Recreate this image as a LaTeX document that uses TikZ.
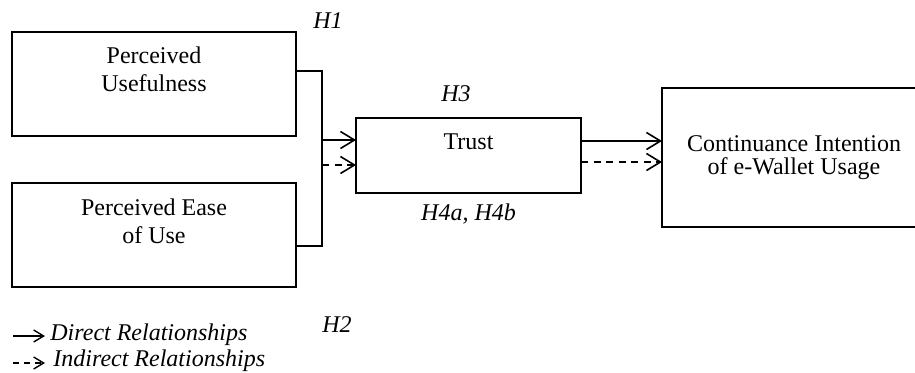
\documentclass[tikz,border=0pt]{standalone}
\usepackage{fontspec}
\setmainfont{Liberation Serif}
\usetikzlibrary{positioning,arrows.meta}

\begin{document}
\begin{tikzpicture}[
  box/.style={draw, line width=0.9pt, minimum width=142pt, minimum height=52pt,
              inner sep=0pt, outer sep=0pt},
  lbl/.style={inner sep=0pt, align=center, font=\fontsize{12}{14}\selectfont},
  hyp/.style={inner sep=0pt, font=\fontsize{12}{14}\selectfont\itshape},
  arrow/.style={-{Straight Barb[length=7pt, width=8.5pt]}, line width=0.8pt},
  legarrow/.style={-{Straight Barb[length=5pt, width=6pt]}, line width=0.7pt},
  indirect/.style={dash pattern=on 3.5pt off 2.75pt}
]
  \useasboundingbox (0,0) rectangle (457.5pt,-186pt);

  % Konstrukte
  \node[box, anchor=north west] (pu) at (6pt,-16pt) {};
  \node[box, below=23.5pt of pu] (peou) {};
  \node[box, minimum width=112.5pt, minimum height=37.5pt, anchor=north west] (trust) at (178pt,-59pt) {};
  \node[box, minimum width=132pt, minimum height=69.5pt, anchor=north west] (ci) at (331pt,-44pt) {};

  \node[lbl, below=7.3pt of pu.north] (pu-txt) {Perceived\\Usefulness};
  \node[lbl, below=7.8pt of peou.north] (peou-txt) {Perceived Ease\\of Use};
  \node[lbl, below=7.6pt of trust.north] (trust-txt) {Trust};
  \node[lbl, font=\fontsize{12}{11.5}\selectfont, below=23.4pt of ci.north] (ci-txt)
       {Continuance Intention\\of e-Wallet Usage};

  % Hypothesen
  \node[hyp, anchor=base] (h1) at (164pt,-14pt) {H1};
  \node[hyp, anchor=base] (h3) at (228pt,-50.5pt) {H3};
  \node[hyp, below=5pt of trust] (h4) {H4a, H4b};
  \node[hyp, anchor=base] (h2) at (168.5pt,-166pt) {H2};

  % Verbindungen
  \coordinate (j1) at (161pt,-35.5pt);
  \coordinate (j2) at (161pt,-123pt);
  \draw[line width=0.8pt] (pu.east |- j1) -- (j1) -- (j2) -- (peou.east |- j2);

  \coordinate (ts) at ([yshift=7.75pt]trust.west);
  \coordinate (td) at ([yshift=-4.75pt]trust.west);
  \draw[arrow] (j1 |- ts) -- (ts);
  \draw[arrow, indirect] (j1 |- td) -- (td);

  \coordinate (os) at ([yshift=7.25pt]trust.east);
  \coordinate (od) at ([yshift=-3.25pt]trust.east);
  \draw[arrow] (os) -- (os -| ci.west);
  \draw[arrow, indirect] (od) -- (od -| ci.west);

  % Legende
  \node[hyp, anchor=base west] (leg-dir) at (25pt,-170pt) {Direct Relationships};
  \node[hyp, anchor=base west] (leg-ind) at (26.5pt,-183pt) {Indirect Relationships};
  \coordinate (ld0) at (6.5pt,-168pt);
  \coordinate (ld1) at (22.5pt,-168pt);
  \coordinate (li0) at (6.5pt,-181.5pt);
  \coordinate (li1) at (22.5pt,-181.5pt);
  \draw[legarrow] (ld0) -- (ld1);
  \draw[legarrow, dash pattern=on 3pt off 2.5pt] (li0) -- (li1);
\end{tikzpicture}
\end{document}
